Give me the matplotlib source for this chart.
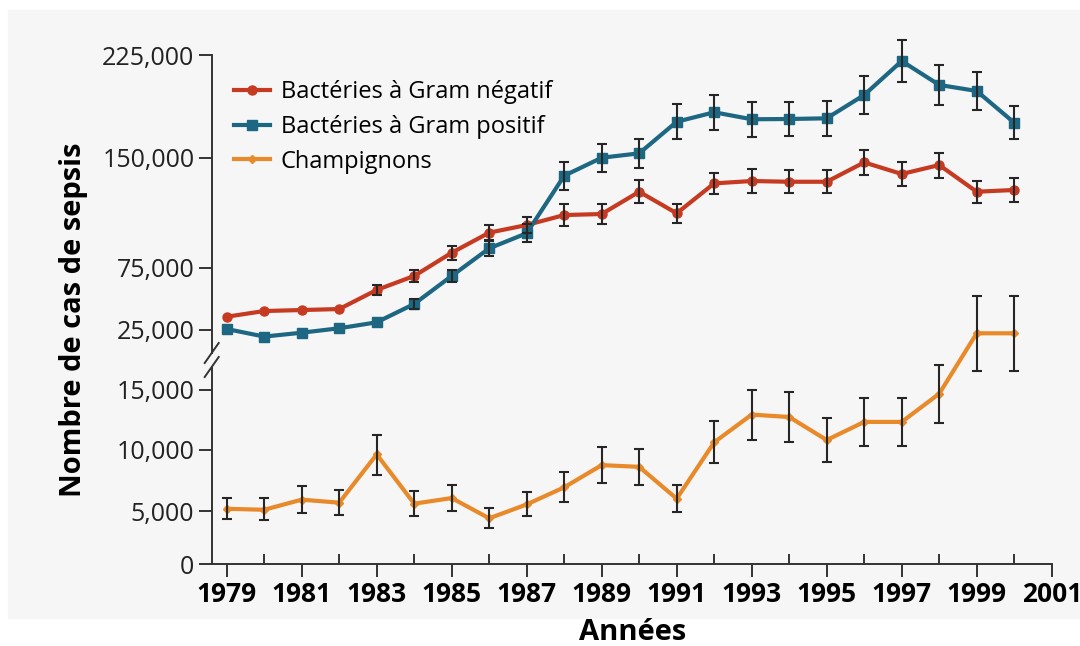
import numpy as np
import matplotlib
matplotlib.use("Agg")
import matplotlib.pyplot as plt
from matplotlib.patches import Rectangle
from matplotlib.ticker import FixedLocator, NullLocator, FuncFormatter

plt.rcParams['font.family'] = ['Open Sans', 'DejaVu Sans']

nan = np.nan
years = np.arange(1979, 2001)

# error bars hidden behind the markers are left out (nan)
gram_neg = [35700, 40300, 41100, 41900, 57300, 68600, 85400, 99100, 104300, 111100, 111800,
            127000, 112300, 132700, 134300, 133800, 133800, 147000, 139100, 145200, 127000, 128200]
gram_neg_err = [nan, nan, nan, nan, 4000, 4500, 4800, 5300, 5700, 7200, 6800,
                7800, 6500, 7300, 8000, 8000, 8000, 8900, 8000, 8500, 7500, 8000]

gram_pos = [25800, 23900, 24550, 26400, 31200, 46000, 68600, 88400, 98700, 137900, 150200,
            153400, 176400, 183300, 178200, 178400, 178900, 195900, 220600, 203200, 198800, 175700]
gram_pos_err = [nan, nan, nan, nan, nan, 4000, 4500, 5100, 6100, 9500, 9800,
                10300, 12700, 12700, 12700, 12700, 12700, 13600, 15100, 14600, 13600, 12100]

fungi = [5180, 5100, 5930, 5680, 9640, 5600, 6060, 4310, 5540, 6940, 8760,
         8620, 6010, 10640, 12950, 12750, 10830, 12340, 12340, 14690, 24450, 24450]
fungi_err_lo = [900, 950, 1100, 1070, 1650, 1050, 1100, 950, 1030, 1240, 1490,
                1450, 1100, 1740, 2100, 2070, 1820, 2000, 2000, 2400, 6200, 6200]
fungi_err_hi = [900, 950, 1100, 1070, 1650, 1050, 1100, 950, 1030, 1240, 1490,
                1450, 1100, 1740, 2100, 2070, 1820, 2000, 2000, 4400, 27900, 27900]

labels = ["Bactéries à Gram négatif", "Bactéries à Gram positif", "Champignons"]
colors = ["#c63a22", "#1d6782", "#e88a2a"]

yticks = [0, 5000, 10000, 15000, 25000, 75000, 150000, 225000]
xticks_major = np.arange(1979, 2002, 2)
xticks_minor = np.arange(1980, 2001, 2)

# broken axis: piecewise linear scale
knot_v = np.array([-100000, 0, 5000, 10000, 15000, 25000, 75000, 150000, 225000, 300000])
knot_h = np.array([-1060, 0, 53, 114, 174, 234, 296, 406, 509, 612])


def fwd(v):
    return np.interp(v, knot_v, knot_h)


def inv(h):
    return np.interp(h, knot_h, knot_v)


fig = plt.figure(figsize=(10.8, 6.46), dpi=100)
fig.patches.append(Rectangle((8 / 1080, 28 / 646), 1072 / 1080, 608 / 646,
                             transform=fig.transFigure, color="#f6f6f6", zorder=-10))
ax = fig.add_axes([211.7 / 1080, 82 / 646, 840 / 1080, 519 / 646])
ax.set_zorder(1)
ax.set_facecolor("none")
ax.set_yscale('function', functions=(fwd, inv))

series = [(gram_neg, [gram_neg_err, gram_neg_err], 'o', 6.5),
          (gram_pos, [gram_pos_err, gram_pos_err], 's', 6.5),
          (fungi, [fungi_err_lo, fungi_err_hi], 'D', 4)]
for (vals, err, mk, ms), lab, col in zip(series, labels, colors):
    ax.plot(years, vals, color=col, lw=3, marker=mk, ms=ms, label=lab, zorder=3)
    ax.errorbar(years, vals, yerr=np.array(err, dtype=float), fmt='none', ecolor="#262626",
                elinewidth=1.5, capsize=3.8, capthick=1.5, zorder=4, clip_on=False)

ax.set_xlim(1978.6, 2001)
ax.set_ylim(0, inv(519))

ax.yaxis.set_major_locator(FixedLocator(yticks))
ax.yaxis.set_minor_locator(NullLocator())
ax.yaxis.set_major_formatter(FuncFormatter(lambda v, p: f"{int(v):,}"))
ax.xaxis.set_major_locator(FixedLocator(xticks_major))
ax.xaxis.set_minor_locator(FixedLocator(xticks_minor))

ax.tick_params(axis='y', which='major', direction='out', length=9.5, width=1.4,
               color="#333333", labelsize=18, labelcolor="#222222", pad=3)
ax.tick_params(axis='x', which='major', direction='out', length=9, width=1.4,
               color="#333333", labelsize=19, pad=3)
ax.tick_params(axis='x', which='minor', direction='in', length=7, width=1.4, color="#333333")
for t in ax.get_xticklabels():
    t.set_fontweight('bold')

for s in ['top', 'right', 'left']:
    ax.spines[s].set_visible(False)
ax.spines['bottom'].set_color("#333333")
ax.spines['bottom'].set_linewidth(1.4)

# left spine with break marks
H = 519.0
kw = dict(transform=ax.transAxes, clip_on=False, color="#333333", lw=1.4, zorder=5)
ax.plot([0, 0], [0, 197 / H], **kw)
ax.plot([0, 0], [211 / H, 509 / H], **kw)
for hc in (197, 211):
    ax.plot([-7 / 840, 7 / 840], [(hc - 10) / H, (hc + 10) / H], **kw)

leg = ax.legend(loc='upper left', bbox_to_anchor=(0.026, 0.932), frameon=False,
                fontsize=17, handlelength=1.55, handletextpad=0.45, labelspacing=0.45,
                borderpad=0, borderaxespad=0)

fig.text(74 / 1080, 1 - 320 / 646, "Nombre de cas de sepsis", rotation=90,
         ha='center', va='center', fontsize=21, fontweight='bold')
fig.text(633 / 1080, 1 - 632 / 646, "Années", ha='center', va='center',
         fontsize=21, fontweight='bold')

fig.savefig("out.png", dpi=100)
